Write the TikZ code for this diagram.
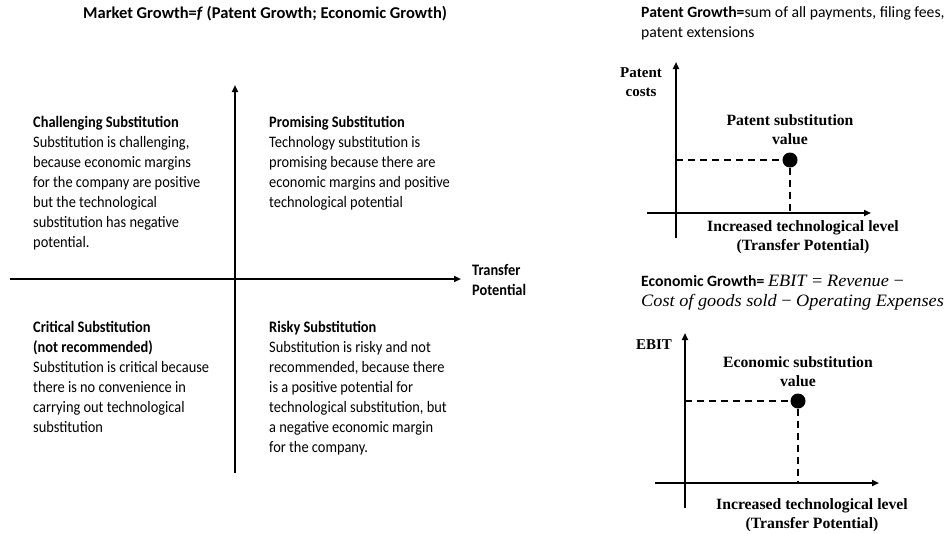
\documentclass[tikz,border=0pt]{standalone}
\usepackage{fontspec}
\setmainfont{Carlito}
\newfontfamily\bodyf[FakeStretch=0.9]{Carlito}
\newfontfamily\serifb{Liberation Serif}
\newfontfamily\formf[FakeStretch=1.05]{Liberation Serif}
\usetikzlibrary{arrows.meta}
\begin{document}
\begin{tikzpicture}[x=1pt,y=-1pt,
  axis/.style={line width=1.8pt,-{Triangle[length=7pt,width=6pt]}},
  guide/.style={line width=1.5pt,dash pattern=on 7pt off 5pt},
  quad/.style={anchor=north west,inner sep=0pt,align=left,font=\bodyf\fontsize{16}{20}\selectfont},
  rtxt/.style={anchor=north west,inner sep=0pt,align=left,font=\fontsize{15.7}{20}\selectfont},
  hdr/.style={anchor=west,inner sep=0pt,align=left,font=\fontsize{16.5}{20}\selectfont},
  ser/.style={inner sep=0pt,align=center,font=\serifb\bfseries\fontsize{15.7}{18.5}\selectfont},
  dot/.style={circle,fill=black,inner sep=0pt,minimum size=15pt}]
\useasboundingbox (0,0) rectangle (952,533);
% title
\node[hdr] (title) at (83,14) {\textbf{Market Growth=\textit{f} (Patent Growth; Economic Growth)}};
% main axes
\coordinate (vb) at (235,473);
\coordinate (vt) at (235,85);
\coordinate (hl) at (10,279);
\coordinate (hr) at (461,279);
\draw[axis] (vb) -- (vt);
\draw[axis] (hl) -- (hr);
\node[hdr,font=\bodyf\bfseries\fontsize{16}{20}\selectfont] (tp) at (472,279.5) {Transfer\\Potential};
% quadrants
\node[quad] (q1) at (33,116) {\textbf{Challenging Substitution}\\Substitution is challenging,\\because economic margins\\for the company are positive\\but the technological\\substitution has negative\\potential.};
\node[quad] (q2) at (269,116) {\textbf{Promising Substitution}\\Technology substitution is\\promising because there are\\economic margins and positive\\technological potential};
\node[quad] (q3) at (33,321) {\textbf{Critical Substitution}\\\textbf{(not recommended)}\\Substitution is critical because\\there is no convenience in\\carrying out technological\\substitution};
\node[quad] (q4) at (269,321) {\textbf{Risky Substitution}\\Substitution is risky and not\\recommended, because there\\is a positive potential for\\technological substitution, but\\a negative economic margin\\for the company.};
% patent growth
\node[rtxt] (pg) at (641,6) {\textbf{Patent Growth=}sum of all payments, filing fees,\\patent extensions};
\coordinate (p1b) at (676,238);
\coordinate (p1t) at (676,62);
\coordinate (p1l) at (647,213);
\coordinate (p1r) at (871,213);
\draw[axis] (p1b) -- (p1t);
\draw[axis] (p1l) -- (p1r);
\node[dot] (d1) at (790,160) {};
\coordinate (d1y) at (676,160);
\coordinate (d1x) at (790,213);
\draw[guide] (d1y) -- (d1.west);
\draw[guide] (d1.south) -- (d1x);
\node[ser,font=\serifb\bfseries\fontsize{15}{18.5}\selectfont] (pc) at (641,82) {Patent\\costs};
\node[ser] (psv) at (790,129.5) {Patent substitution\\value};
\node[ser] (itl1) at (803,237) {Increased technological level\\(Transfer Potential)};
% economic growth
\node[rtxt] (eg) at (641,275) {\textbf{Economic Growth=} {\formf\fontsize{17.4}{20}\selectfont\textit{EBIT} = \textit{Revenue} −}\\{\formf\fontsize{17.4}{20}\selectfont\textit{Cost of goods sold} − \textit{Operating Expenses}}};
\coordinate (p2b) at (685,508);
\coordinate (p2t) at (685,333);
\coordinate (p2l) at (655,483);
\coordinate (p2r) at (879,483);
\draw[axis] (p2b) -- (p2t);
\draw[axis] (p2l) -- (p2r);
\node[dot] (d2) at (798,401) {};
\coordinate (d2y) at (685,401);
\coordinate (d2x) at (798,483);
\draw[guide] (d2y) -- (d2.west);
\draw[guide] (d2.south) -- (d2x);
\node[ser,font=\serifb\bfseries\fontsize{15}{18.5}\selectfont] (eb) at (654,345) {EBIT};
\node[ser] (esv) at (798,371.5) {Economic substitution\\value};
\node[ser] (itl2) at (812,515) {Increased technological level\\(Transfer Potential)};
\end{tikzpicture}
\end{document}
